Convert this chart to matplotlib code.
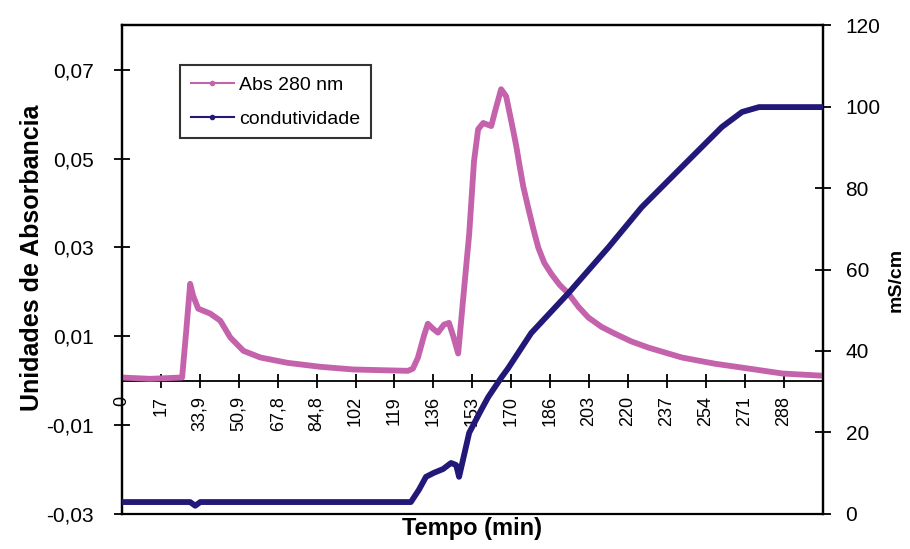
import numpy as np
import matplotlib.pyplot as plt
from matplotlib.lines import Line2D

plt.rcParams['font.family'] = ['Liberation Sans', 'DejaVu Sans']

# Absorbance at 280 nm (left axis)
t_abs = [0, 12.2, 26.2, 28.0, 29.7, 31.0, 33.2, 38.4, 42.8, 47.2, 52.9, 60.3,
         72.1, 86.5, 100.9, 124.5, 126.7, 128.9, 131.5, 133.2, 135.4, 137.6,
         140.2, 142.4, 144.2, 146.4, 148.5, 151.2, 153.3, 155.1, 157.3, 160.8,
         162.5, 165.1, 167.3, 170.4, 171.7, 173.0, 174.7, 176.9, 179.1, 181.3,
         183.9, 187.0, 190.5, 194.4, 198.8, 203.1, 208.8, 214.5, 221.9, 229.4,
         243.8, 258.2, 273.0, 287.5, 305.0]
absorb = [0.0007, 0.0004, 0.0007, 0.0112, 0.0218, 0.0191, 0.0162, 0.0151,
          0.0135, 0.0097, 0.0067, 0.0052, 0.0040, 0.0031, 0.0025, 0.0022,
          0.0027, 0.0052, 0.0101, 0.0128, 0.0117, 0.0108, 0.0126, 0.0130,
          0.0101, 0.0061, 0.0180, 0.0330, 0.0494, 0.0566, 0.0580, 0.0573,
          0.0607, 0.0656, 0.0640, 0.0562, 0.0528, 0.0488, 0.0438, 0.0389,
          0.0342, 0.0299, 0.0265, 0.0240, 0.0216, 0.0196, 0.0166, 0.0142,
          0.0121, 0.0106, 0.0088, 0.0074, 0.0052, 0.0038, 0.0027, 0.0016,
          0.0011]

# Conductivity (right axis)
t_cond = [0, 29.7, 31.9, 34.1, 125.8, 129.3, 132.4, 135.9, 139.8, 143.3, 145.5,
          146.8, 149.0, 151.2, 156.4, 159.5, 165.1, 168.2, 178.2, 194.4, 211.9,
          226.3, 243.8, 261.2, 270.0, 277.4, 305.0]
cond = [2.9, 2.9, 2.0, 2.9, 2.9, 5.9, 9.1, 10.1, 11.0, 12.5, 12.0, 9.1, 14.5,
        19.9, 25.5, 28.7, 33.4, 35.8, 44.4, 54.2, 65.5, 75.3, 85.2, 95.0, 98.7,
        99.9, 99.9]

x_labels = ['0', '17', '33,9', '50,9', '67,8', '84,8', '102', '119', '136',
            '153', '170', '186', '203', '220', '237', '254', '271', '288']
x_step = 16.95

pink = '#c462ab'
navy = '#221878'

fig = plt.figure(figsize=(9.1, 5.49), dpi=100)
ax = fig.add_axes([0.134, 0.064, 0.770, 0.890])
ax2 = ax.twinx()

ax.plot(t_abs, absorb, color=pink, lw=4.2, zorder=3, solid_joinstyle='round')
ax2.plot(t_cond, cond, color=navy, lw=4.2, zorder=3, solid_joinstyle='round')

ax.set_xlim(0, x_step * 18)
ax.set_ylim(-0.03, 0.08)
ax2.set_ylim(0, 120)

# x axis crosses at zero
ax.spines['bottom'].set_position(('data', 0))
ax.spines['bottom'].set_linewidth(1.3)
for s in ['left', 'top', 'right']:
    ax.spines[s].set_linewidth(1.6)
for s in ax2.spines.values():
    s.set_linewidth(1.6)

xt = [i * x_step for i in range(19)]
ax.set_xticks(xt)
ax.set_xticklabels(x_labels + [''], rotation=90, fontsize=13)
ax.tick_params(axis='x', direction='inout', length=10, width=1.3, pad=6)

yt = [-0.03, -0.01, 0.01, 0.03, 0.05, 0.07]
ax.set_yticks(yt)
ax.set_yticklabels([f"{v:.2f}".replace('.', ',') for v in yt], fontsize=15)
ax.tick_params(axis='y', direction='inout', length=11, width=1.3, pad=15)

ax2.set_yticks(range(0, 121, 20))
ax2.set_yticklabels([str(v) for v in range(0, 121, 20)], fontsize=15)
ax2.tick_params(axis='y', direction='inout', length=11, width=1.3, pad=11)

fig.text(0.519, 0.038, 'Tempo (min)', fontsize=17, fontweight='bold',
         ha='center', va='center')
fig.text(0.035, 0.53, 'Unidades de Absorbancia', fontsize=18,
         fontweight='bold', rotation=90, ha='center', va='center')
fig.text(0.985, 0.49, 'mS/cm', fontsize=14, fontweight='bold', rotation=90,
         ha='center', va='center')

handles = [Line2D([], [], color=pink, lw=1.5, marker='o', markersize=3),
           Line2D([], [], color=navy, lw=1.5, marker='o', markersize=3)]
leg = ax.legend(handles, ['Abs 280 nm', 'condutividade'], loc='upper left',
                bbox_to_anchor=(0.083, 0.918), fontsize=14, frameon=True,
                fancybox=False, borderpad=0.55, handlelength=2.2,
                handletextpad=0.3, labelspacing=0.85, numpoints=1,
                borderaxespad=0)
leg.get_frame().set_edgecolor('black')
leg.get_frame().set_linewidth(1.5)

fig.savefig('out.png', dpi=100)
